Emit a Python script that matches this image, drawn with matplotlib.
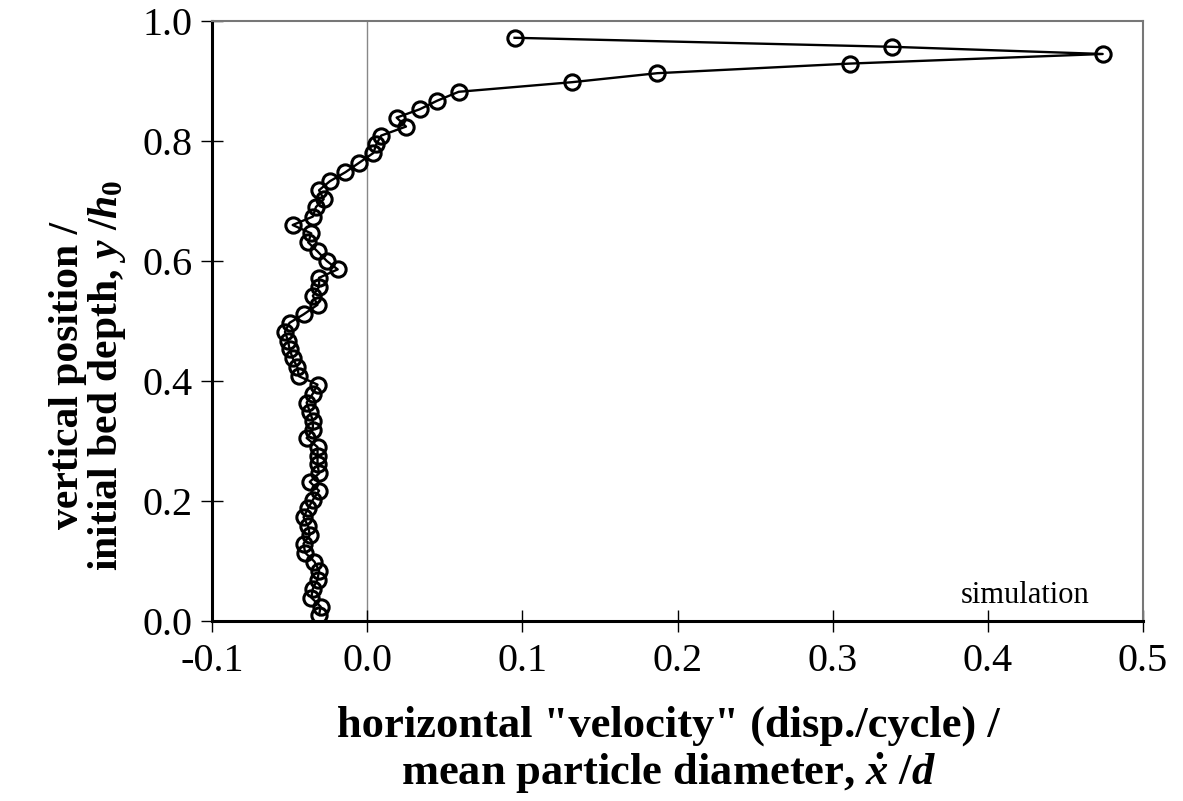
import matplotlib
matplotlib.use("Agg")
import matplotlib.pyplot as plt

# horizontal "velocity" / d, read from top of bed down to bottom
x_vel = [0.095, 0.338, 0.474, 0.311, 0.187, 0.132, 0.059, 0.045, 0.034, 0.019,
         0.025, 0.009, 0.006, 0.004, -0.005, -0.014, -0.024, -0.031, -0.028, -0.033,
         -0.035, -0.048, -0.036, -0.038, -0.032, -0.026, -0.019, -0.031, -0.031, -0.035,
         -0.032, -0.041, -0.050, -0.053, -0.051, -0.050, -0.048, -0.045, -0.044, -0.032,
         -0.035, -0.039, -0.037, -0.035, -0.035, -0.039, -0.032, -0.032, -0.032, -0.031,
         -0.037, -0.031, -0.035, -0.038, -0.041, -0.038, -0.037, -0.041, -0.040, -0.034,
         -0.031, -0.032, -0.035, -0.036, -0.030, -0.031]
# vertical position / initial bed depth
y_pos = [0.972, 0.957, 0.945, 0.929, 0.913, 0.898, 0.882, 0.867, 0.853, 0.839,
         0.824, 0.809, 0.795, 0.780, 0.764, 0.748, 0.733, 0.718, 0.703, 0.690,
         0.674, 0.660, 0.646, 0.631, 0.616, 0.600, 0.586, 0.572, 0.557, 0.542,
         0.527, 0.511, 0.497, 0.482, 0.467, 0.453, 0.438, 0.423, 0.408, 0.394,
         0.379, 0.364, 0.349, 0.334, 0.319, 0.305, 0.290, 0.275, 0.261, 0.246,
         0.232, 0.217, 0.202, 0.188, 0.173, 0.158, 0.143, 0.129, 0.114, 0.099,
         0.084, 0.069, 0.054, 0.039, 0.024, 0.010]

xticks = [-0.1, 0.0, 0.1, 0.2, 0.3, 0.4, 0.5]
yticks = [0.0, 0.2, 0.4, 0.6, 0.8, 1.0]

plt.rcParams['font.family'] = ['Liberation Serif', 'DejaVu Serif']
plt.rcParams['mathtext.fontset'] = 'custom'
plt.rcParams['mathtext.it'] = 'Liberation Serif:italic:bold'
plt.rcParams['mathtext.rm'] = 'Liberation Serif:bold'

fig = plt.figure(figsize=(11.83, 8.01), dpi=100)
ax = fig.add_axes([0.1792, 0.2247, 0.7870, 0.7491])

# zero reference line
ax.axvline(0.0, color='#888888', lw=1.0, zorder=1)

ax.plot(x_vel, y_pos, color='black', lw=1.7, marker='o', markersize=11,
        markerfacecolor='none', markeredgecolor='black', markeredgewidth=2.2, zorder=3)

ax.set_xlim(-0.1, 0.5)
ax.set_ylim(0.0, 1.0)
ax.set_xticks(xticks)
ax.set_yticks(yticks)
ax.set_xticklabels([f"{t:.1f}" for t in xticks])
ax.set_yticklabels([f"{t:.1f}" for t in yticks])
ax.tick_params(axis='both', direction='inout', length=16, width=1.0, labelsize=29)
ax.tick_params(axis='x', pad=8)
ax.tick_params(axis='y', pad=6)

for side in ['left', 'bottom']:
    ax.spines[side].set_linewidth(2.2)
    ax.spines[side].set_color('black')
for side in ['top', 'right']:
    ax.spines[side].set_linewidth(1.5)
    ax.spines[side].set_color('#777777')

ax.set_xlabel('horizontal "velocity" (disp./cycle) /\nmean particle diameter, $\\dot{x}$ /$d$',
              fontsize=32, fontweight='bold', linespacing=1.15)
ax.xaxis.set_label_coords(0.49, -0.14)
ax.set_ylabel('vertical position /\ninitial bed depth, $y$ /$h_0$',
              fontsize=30, fontweight='bold', linespacing=0.98)
ax.yaxis.set_label_coords(-0.09, 0.41)

ax.text(0.943, 0.042, 'simulation', fontsize=22, ha='right', va='center',
        transform=ax.transAxes)

fig.savefig('out.png', dpi=100)
